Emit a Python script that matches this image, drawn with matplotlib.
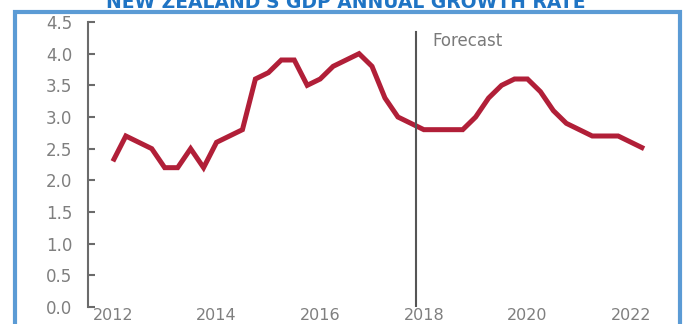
import matplotlib
matplotlib.use("Agg")
import matplotlib.pyplot as plt
from matplotlib.patches import Rectangle

# quarterly GDP growth, % (annual), history + forecast
quarters = [2012.00, 2012.25, 2012.50, 2012.75, 2013.00, 2013.25, 2013.50, 2013.75,
            2014.00, 2014.25, 2014.50, 2014.75, 2015.00, 2015.25, 2015.50, 2015.75,
            2016.00, 2016.25, 2016.50, 2016.75, 2017.00, 2017.25, 2017.50, 2017.75,
            2018.00, 2018.25, 2018.50, 2018.75, 2019.00, 2019.25, 2019.50, 2019.75,
            2020.00, 2020.25, 2020.50, 2020.75, 2021.00, 2021.25, 2021.50, 2021.75,
            2022.00, 2022.25]
growth = [2.3, 2.7, 2.6, 2.5, 2.2, 2.2, 2.5, 2.2,
          2.6, 2.7, 2.8, 3.6, 3.7, 3.9, 3.9, 3.5,
          3.6, 3.8, 3.9, 4.0, 3.8, 3.3, 3.0, 2.9,
          2.8, 2.8, 2.8, 2.8, 3.0, 3.3, 3.5, 3.6,
          3.6, 3.4, 3.1, 2.9, 2.8, 2.7, 2.7, 2.7,
          2.6, 2.5]
forecast_start = 2017.85
year_ticks = [2012, 2014, 2016, 2018, 2020, 2022]
y_ticks = [0.0, 0.5, 1.0, 1.5, 2.0, 2.5, 3.0, 3.5, 4.0, 4.5]
title = "NEW ZEALAND'S GDP ANNUAL GROWTH RATE"

W, H = 683, 324
fig = plt.figure(figsize=(W / 100, H / 100), dpi=100)
fig.patch.set_facecolor("white")

# blue frame round the chart
frame = Rectangle((14.5 / W, -0.2), (679.5 - 14.5) / W, (H - 12) / H + 0.2,
                  transform=fig.transFigure, fill=False,
                  edgecolor="#5b9bd5", linewidth=3.0)
fig.patches.append(frame)

fig.text(346 / W, 1 - 7.5 / H, title, ha="center", va="baseline",
         fontsize=13.5, fontweight="bold", color="#1f74c4")

ax = fig.add_axes([88 / W, 17 / H, (670 - 88) / W, 285 / H])
ax.set_xlim(2011.52, 2022.75)
ax.set_ylim(0, 4.5)

ax.plot(quarters, growth, color="#b11f38", linewidth=3.6,
        solid_joinstyle="miter", solid_capstyle="butt")

# forecast divider
ax.plot([forecast_start, forecast_start], [0, 4.35], color="#555555", linewidth=1.5)
ax.text(forecast_start + 0.31, 4.34, "Forecast", ha="left", va="top",
        fontsize=12, color="#7a7a7a")

for side in ["top", "right", "bottom"]:
    ax.spines[side].set_visible(False)
ax.spines["left"].set_color("#6b6b6b")
ax.spines["left"].set_linewidth(1.5)

ax.set_yticks(y_ticks)
ax.set_yticklabels([f"{v:.1f}" for v in y_ticks])
ax.tick_params(axis="y", direction="in", length=5, width=1.5, color="#6b6b6b",
               pad=11.5, labelsize=12, labelcolor="#7f7f7f")
ax.set_xticks(year_ticks)
ax.set_xticklabels([str(y) for y in year_ticks])
ax.tick_params(axis="x", length=0, pad=0.5, labelsize=11.5, labelcolor="#7f7f7f")

fig.savefig("out.png", dpi=100)
